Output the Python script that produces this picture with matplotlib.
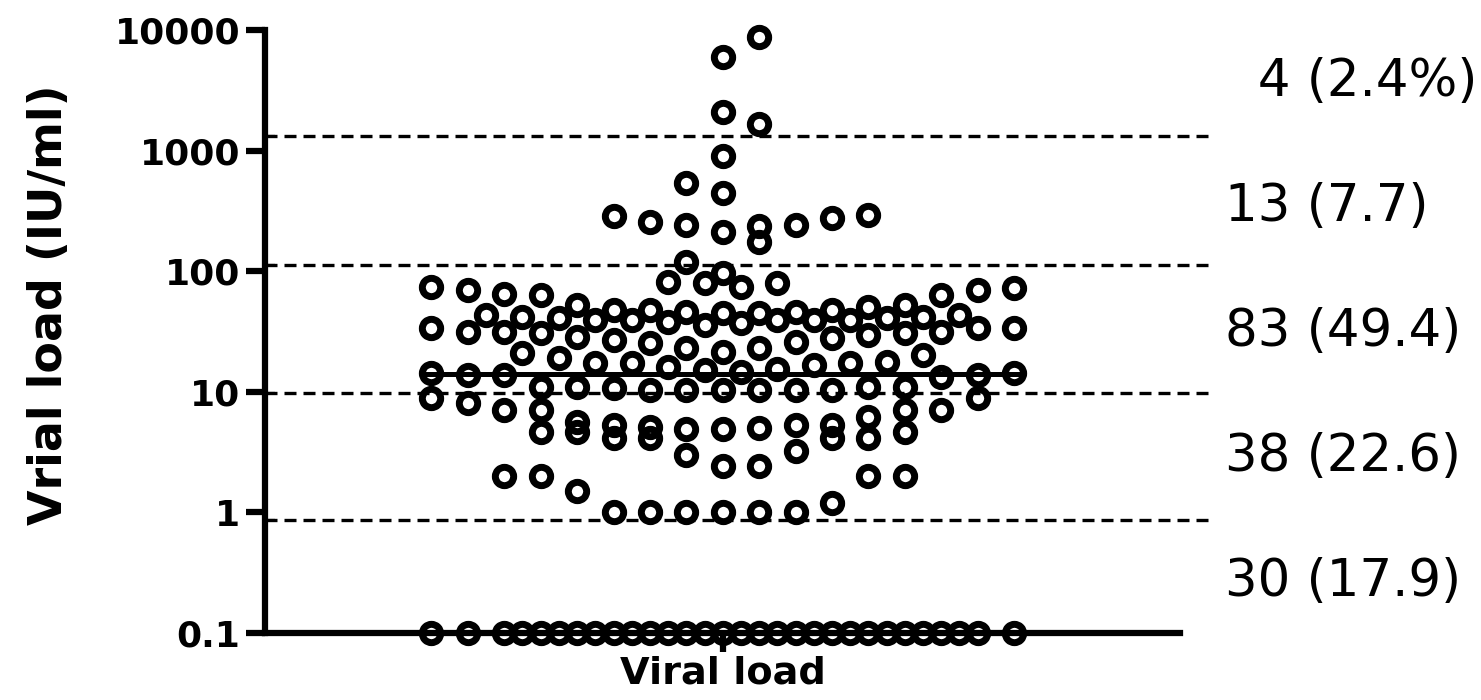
import numpy as np
import matplotlib
matplotlib.use("Agg")
import matplotlib.pyplot as plt
from matplotlib.ticker import FixedLocator, NullFormatter

# viral load per patient (IU/ml)
load_above_1000 = [6000, 8700, 2100, 1650]
load_100_1000 = [287, 256, 540, 242, 119, 910, 445, 211, 237, 175, 242, 276, 292]
load_10_100 = [
    74.0, 33.8, 14.6, 69.9, 43.0, 33.8, 13.8, 64.7, 41.7, 31.3, 13.8, 20.8,
    63.5, 39.4, 30.7, 11.0, 19.1, 52.5, 41.7, 28.5, 11.0, 17.7, 47.7, 40.9,
    26.9, 10.8, 17.3, 47.7, 39.4, 25.9, 10.4, 81.3, 16.1, 45.0, 35.8, 23.1,
    10.4, 79.8, 15.2, 96.6, 45.0, 21.4, 10.4, 74.0, 37.2, 14.3, 45.9, 23.1,
    10.4, 79.8, 39.4, 15.5, 45.9, 25.4, 10.4, 37.9, 16.7, 47.7, 27.9, 10.4,
    39.4, 17.3, 50.5, 29.6, 11.0, 39.4, 17.3, 52.5, 30.7, 11.0, 40.9, 20.2,
    63.5, 31.3, 13.3, 43.0, 69.9, 31.3, 13.8, 72.6, 33.8, 14.3,
]
load_1_10 = [
    8.9, 8.1, 7.1, 2.0, 7.1, 4.6, 2.0, 5.6, 4.6, 1.5, 5.3, 4.1, 1.0, 5.3,
    4.1, 1.0, 4.9, 3.0, 1.0, 4.9, 2.4, 1.0, 5.0, 2.4, 1.0, 5.1, 3.2, 1.0,
    5.3, 4.1, 1.2, 6.2, 4.1, 2.0, 7.1, 4.6, 2.0, 7.1, 8.9,
]
load_undetected = [0.1] * 30

# dashed cut-off lines and the counts written beside each band
band_lines = [1320, 112, 9.8, 0.86]
band_labels = ["  4 (2.4%)", "13 (7.7)", "83 (49.4)", "38 (22.6)", "30 (17.9)"]
y_ticks = [0.1, 1, 10, 100, 1000, 10000]
category = "Viral load"


def column_scatter(values, bin_h=0.305, per_row=17):
    """Prism-style column scatter: bin similar values, spread each bin
    sideways from the centre (lowest value in the middle), max 17 per row,
    overflow rows shifted by half a slot."""
    logv = np.log10(values)
    order = np.argsort(logv, kind="stable")
    bins, start = [], None
    for i in order:
        if start is None or logv[i] - start > bin_h:
            bins.append([])
            start = logv[i]
        bins[-1].append(i)
    x = np.zeros(len(values))
    for b, members in enumerate(bins):
        sign = 1 if b % 2 == 0 else -1
        for c in range(0, len(members), per_row):
            chunk = members[c:c + per_row]
            half = (c // per_row) % 2 == 1
            for k, i in enumerate(chunk):
                if half:
                    slot = k // 2 + 0.5
                    x[i] = sign * slot if k % 2 == 0 else -sign * slot
                else:
                    slot = (k + 1) // 2
                    x[i] = sign * slot if k % 2 == 1 else -sign * slot
    return x


plt.rcParams["font.family"] = "DejaVu Sans"

values = np.concatenate([load_above_1000, load_100_1000, load_10_100,
                         load_1_10, load_undetected])
xs = column_scatter(values)

fig = plt.figure(figsize=(14.81, 7.0), dpi=100)
ax = fig.add_axes([0.179, 0.096, 0.618, 0.861])

ax.plot(xs, values, linestyle="none", marker="o", ms=13.2, mew=5,
        mfc="none", mec="black", clip_on=False, zorder=3)

median = np.median(values)
ax.plot([xs.min() - 0.3, xs.max() + 0.3], [median, median], color="black",
        lw=3.6, solid_capstyle="butt", zorder=4)

for v in band_lines:
    ax.axhline(v, xmin=0, xmax=1.035, color="black", lw=2.4,
               dashes=(3.6, 2.1), clip_on=False, zorder=1)

# the counts sit in one text block to the right of the plot
fig.text(1225 / 1481, 1 - 332 / 700, "\n\n".join(band_labels), ha="left",
         va="center", fontsize=37, linespacing=1.32)

ax.set_yscale("log")
ax.set_ylim(0.1, 10000)
ax.set_xlim(-12.57, 12.57)
ax.set_yticks(y_ticks)
ax.set_yticklabels([f"{t:g}" for t in y_ticks], fontweight="bold")
ax.yaxis.set_minor_locator(FixedLocator(band_lines))
ax.yaxis.set_minor_formatter(NullFormatter())
ax.set_xticks([0])
ax.set_xticklabels([category], fontweight="bold")

ax.tick_params(which="major", direction="out", length=14, width=4.5,
               labelsize=26, pad=4)
ax.tick_params(axis="x", labelsize=27.5, pad=2)
ax.tick_params(axis="y", which="minor", direction="in", length=7, width=1.6)

for side in ["top", "right"]:
    ax.spines[side].set_visible(False)
for side in ["left", "bottom"]:
    ax.spines[side].set_linewidth(4.5)

fig.text(50 / 1481, 1 - 305 / 700, "Vrial load (IU/ml)", rotation=90,
         ha="center", va="center", fontsize=33, fontweight="bold")

fig.savefig("out.png", dpi=100)
